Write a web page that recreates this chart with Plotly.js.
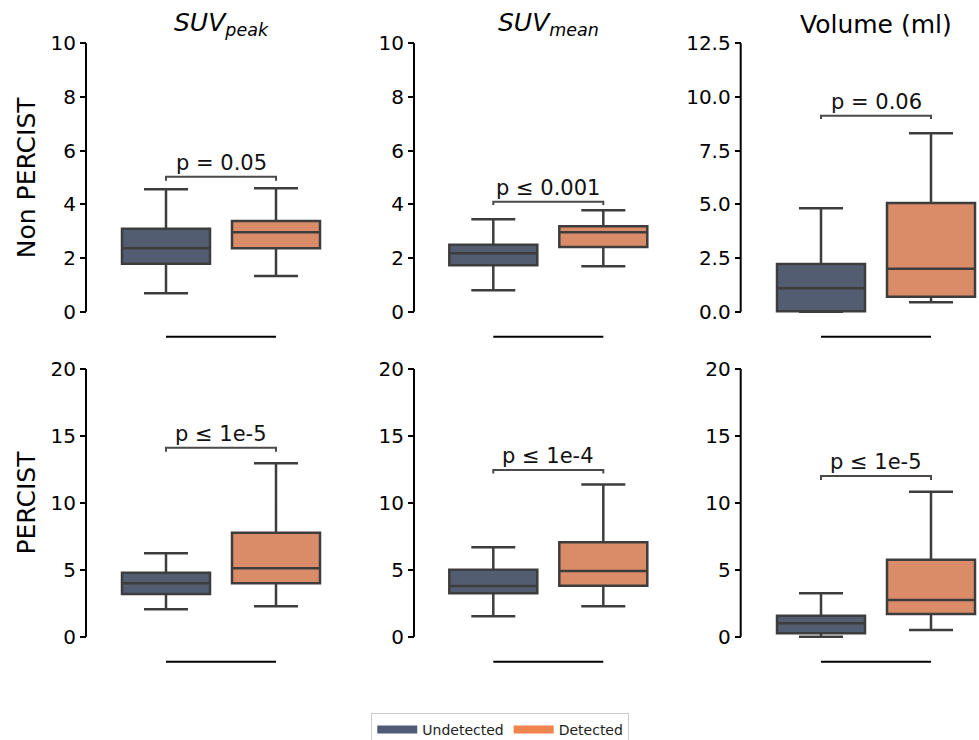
<!DOCTYPE html>
<html>
<head>
<meta charset="utf-8">
<script src="https://cdn.plot.ly/plotly-3.0.1.min.js"></script>
<style>html,body{margin:0;padding:0;background:#fff;}#chart{width:979px;height:740px;}</style>
</head>
<body>
<div id="chart"></div>
<script>
// ---- data ----
const colTitles = ['<i>SUV<sub>peak</sub></i>', '<i>SUV<sub>mean</sub></i>', 'Volume (ml)'];
const rowTitles = ['Non PERCIST', 'PERCIST'];
const groups = ['Undetected', 'Detected'];

// panel order: row1 (SUVpeak, SUVmean, Volume), row2 (SUVpeak, SUVmean, Volume)
const undetQ1     = [1.79, 1.73, 0.02, 3.19, 3.24, 0.25];
const undetMedian = [2.36, 2.18, 1.09, 3.99, 3.79, 1.00];
const undetQ3     = [3.09, 2.49, 2.22, 4.78, 5.01, 1.57];
const undetLower  = [0.69, 0.80, 0.00, 2.05, 1.52, 0.00];
const undetUpper  = [4.56, 3.44, 4.82, 6.23, 6.68, 3.24];

const detQ1     = [2.36, 2.41, 0.70, 3.99, 3.81, 1.70];
const detMedian = [2.96, 2.96, 2.00, 5.11, 4.91, 2.74];
const detQ3     = [3.38, 3.18, 5.06, 7.77, 7.05, 5.75];
const detLower  = [1.33, 1.69, 0.44, 2.27, 2.27, 0.50];
const detUpper  = [4.60, 3.78, 8.31, 12.95, 11.38, 10.83];

const bracketTop = [5.03, 4.10, 9.13, 14.12, 12.45, 12.0];
const bracketLeg = [4.88, 3.98, 8.97, 13.82, 12.20, 11.70];
const pLabels = ['p = 0.05', 'p ≤ 0.001', 'p = 0.06', 'p ≤ 1e-5', 'p ≤ 1e-4', 'p ≤ 1e-5'];

const yTickMax = [10, 10, 12.5, 20, 20, 20];
const yTickStep = [2, 2, 2.5, 5, 5, 5];
const yTickFormat = ['d', 'd', '.1f', 'd', 'd', 'd'];

// ---- styles ----
const FONT = 'DejaVu Sans, sans-serif';
const boxFill = ['#535d72', '#da8b68'];
const legendColor = ['#4e5a76', '#f0844f'];
const edge = '#3d3d3d';
const W = 979, H = 740;

// geometry (pixels)
const colLeft = [111, 438.3, 766];     // x=-0.5 position
const pxPerCat = 110;
const spineX = [86, 414, 740.7];
const rowTopTick = [43.3, 369];
const rowZero = [311.7, 636.7];
const padPx = 13.4;
const xSpineY = [336.7, 661.7];

const traces = [];
const layout = {
  width: W, height: H,
  margin: {l: 0, r: 0, t: 0, b: 0, autoexpand: false},
  paper_bgcolor: '#ffffff',
  plot_bgcolor: 'rgba(0,0,0,0)',
  font: {family: FONT, color: '#000'},
  boxmode: 'overlay',
  showlegend: true,
  legend: {
    orientation: 'h', x: 0.511, xanchor: 'center', y: 1 - 713 / H, yanchor: 'top',
    bordercolor: '#cccccc', borderwidth: 1, bgcolor: '#ffffff',
    font: {family: FONT, size: 14, color: '#222'}, itemwidth: 40
  },
  shapes: [],
  annotations: []
};

for (let i = 0; i < 6; i++) {
  const r = Math.floor(i / 3), c = i % 3;
  const n = i + 1;
  const xa = 'x' + (n === 1 ? '' : n), ya = 'y' + (n === 1 ? '' : n);
  const xKey = 'xaxis' + (n === 1 ? '' : n), yKey = 'yaxis' + (n === 1 ? '' : n);

  const pxPerUnit = (rowZero[r] - rowTopTick[r]) / yTickMax[i];
  const pad = padPx / pxPerUnit;
  const yRange = [-pad, yTickMax[i] + pad];
  const domTopPx = rowTopTick[r] - padPx, domBotPx = rowZero[r] + padPx;

  const left = colLeft[c];
  const right = Math.min(left + 2 * pxPerCat, W);
  const xRange = [-0.5, -0.5 + (right - left) / pxPerCat];

  layout[xKey] = {
    domain: [left / W, right / W], range: xRange, anchor: ya,
    visible: false, fixedrange: true
  };
  layout[yKey] = {
    domain: [1 - domBotPx / H, 1 - domTopPx / H], range: yRange,
    anchor: 'free', position: spineX[c] / W,
    showgrid: false, zeroline: false, showline: false,
    ticks: 'outside', ticklen: 6, tickwidth: 2, tickcolor: '#000',
    tick0: 0, dtick: yTickStep[i], tickformat: yTickFormat[i],
    tickfont: {family: FONT, size: 20, color: '#000'}, fixedrange: true
  };

  // boxes
  traces.push({
    type: 'box', name: groups[0], x: [0],
    q1: [undetQ1[i]], median: [undetMedian[i]], q3: [undetQ3[i]],
    lowerfence: [undetLower[i]], upperfence: [undetUpper[i]],
    width: 0.8, whiskerwidth: 0.5, fillcolor: boxFill[0],
    line: {color: edge, width: 2.5}, boxpoints: false,
    showlegend: false, hoverinfo: 'skip', xaxis: xa, yaxis: ya
  });
  traces.push({
    type: 'box', name: groups[1], x: [1],
    q1: [detQ1[i]], median: [detMedian[i]], q3: [detQ3[i]],
    lowerfence: [detLower[i]], upperfence: [detUpper[i]],
    width: 0.8, whiskerwidth: 0.5, fillcolor: boxFill[1],
    line: {color: edge, width: 2.5}, boxpoints: false,
    showlegend: false, hoverinfo: 'skip', xaxis: xa, yaxis: ya
  });
  // significance bracket
  traces.push({
    type: 'scatter', mode: 'lines', x: [0, 0, 1, 1],
    y: [bracketLeg[i], bracketTop[i], bracketTop[i], bracketLeg[i]],
    line: {color: '#4a4a4a', width: 2}, showlegend: false, hoverinfo: 'skip',
    xaxis: xa, yaxis: ya
  });
  layout.annotations.push({
    xref: xa, yref: ya, x: 0.5, y: bracketTop[i], yanchor: 'bottom', yshift: 0,
    text: pLabels[i], showarrow: false,
    font: {family: FONT, size: 21, color: '#111'}
  });

  // trimmed spines
  layout.shapes.push({
    type: 'line', xref: 'paper', yref: ya,
    x0: spineX[c] / W, x1: spineX[c] / W, y0: 0, y1: yTickMax[i],
    line: {color: '#000', width: 2}
  });
  layout.shapes.push({
    type: 'line', xref: xa, yref: 'paper',
    x0: 0, x1: 1, y0: 1 - xSpineY[r] / H, y1: 1 - xSpineY[r] / H,
    line: {color: '#000', width: 2}
  });

  // column titles
  if (r === 0) {
    layout.annotations.push({
      xref: xa, yref: 'paper', x: 0.5, y: 1 - 24 / H, yanchor: 'middle',
      text: colTitles[c], showarrow: false,
      font: {family: FONT, size: 25, color: '#000'}
    });
  }
  // row titles
  if (c === 0) {
    layout.annotations.push({
      xref: 'paper', yref: 'paper', x: 26.7 / W,
      y: 1 - ((rowTopTick[r] + rowZero[r]) / 2) / H,
      xanchor: 'center', yanchor: 'middle', textangle: -90,
      text: rowTitles[r], showarrow: false,
      font: {family: FONT, size: 25, color: '#000'}
    });
  }
}

// legend entries
for (let g = 0; g < 2; g++) {
  traces.push({
    type: 'scatter', mode: 'lines', name: groups[g], x: [null], y: [null],
    line: {color: legendColor[g], width: 8}, hoverinfo: 'skip', showlegend: true,
    xaxis: 'x5', yaxis: 'y5'
  });
}

Plotly.newPlot('chart', traces, layout, {displayModeBar: false, staticPlot: true});
</script>
</body>
</html>
